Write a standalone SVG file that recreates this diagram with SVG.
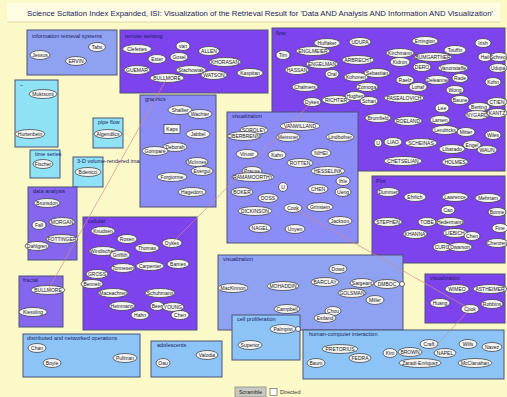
<svg xmlns="http://www.w3.org/2000/svg" width="507" height="397" viewBox="0 0 507 397">
<style>
.box{stroke:#4e5278;stroke-width:1}
.p{fill:#7d44ee}.w{fill:#8b8cf6}.b{fill:#8fa2f2}.lb{fill:#8cc4f7}.c{fill:#8fe2f5}.m{fill:#8466ef}
.lbl{font-family:"Liberation Sans",Arial,sans-serif;font-size:5.5px;fill:#1c1c60}
.n ellipse,.n rect,.n circle{fill:#f5f5f5;stroke:#333;stroke-width:0.7}
.n text{font-family:"Liberation Sans",Arial,sans-serif;font-size:5px;fill:#222;text-anchor:middle}
.con line{stroke:#d08c8c;stroke-width:0.8;opacity:0.85}
</style>
<rect width="507" height="397" fill="#fcf9c8"/>
<rect x="7" y="3" width="493" height="19" fill="#fefde4"/>
<line x1="7" y1="22" x2="500" y2="22" stroke="#dcd9a8" stroke-width="1"/>
<text x="27" y="16" font-family="'Liberation Sans',Arial,sans-serif" font-size="7" fill="#1c1c60" textLength="466" lengthAdjust="spacingAndGlyphs">Science Scitation Index Expanded, ISI: Visualization of the Retrieval Result for 'Data AND Analysis AND Information AND Visualization'</text>

<g id="c-info"><rect class="box b" x="27" y="30" width="90" height="45"/><text class="lbl" x="32" y="38">information retrieval systems</text>
<g class="n" id="n1"><ellipse cx="40" cy="55" rx="10" ry="4.5"/><text x="40" y="56.8">Jessus</text></g>
<g class="n" id="n2"><ellipse cx="97" cy="47" rx="8.5" ry="4.5"/><text x="97" y="48.8">Tabs</text></g>
<g class="n" id="n3"><ellipse cx="76" cy="61" rx="10.5" ry="4.5"/><text x="76" y="62.8">ERVIN</text></g>
</g>

<g id="c-remote"><rect class="box p" x="120" y="30" width="148" height="63"/><text class="lbl" x="125" y="38">remote sensing</text>
<g class="n" id="n4"><ellipse cx="137" cy="49" rx="14.5" ry="4.5"/><text x="137" y="50.8">Clefettes</text></g>
<g class="n" id="n5"><ellipse cx="183" cy="46" rx="7" ry="4.5"/><text x="183" y="47.8">van</text></g>
<g class="n" id="n6"><ellipse cx="209" cy="51" rx="10.5" ry="4.5"/><text x="209" y="52.8">ALLEN</text></g>
<g class="n" id="n7"><ellipse cx="157" cy="59" rx="9" ry="4.5"/><text x="157" y="60.8">Ester</text></g>
<g class="n" id="n8"><ellipse cx="179" cy="57" rx="9" ry="4.5"/><text x="179" y="58.8">Gosel</text></g>
<g class="n" id="n9"><ellipse cx="225" cy="62" rx="16" ry="4.5"/><text x="225" y="63.8">KHORASAN</text></g>
<g class="n" id="n10"><ellipse cx="137" cy="70" rx="13" ry="4.5"/><text x="137" y="71.8">GUEMAR</text></g>
<g class="n" id="n11"><ellipse cx="191" cy="70" rx="15" ry="4.5"/><text x="191" y="71.8">Stachowiak</text></g>
<g class="n" id="n12"><ellipse cx="214" cy="75" rx="13" ry="4.5"/><text x="214" y="76.8">WATSON</text></g>
<g class="n" id="n13"><ellipse cx="250" cy="73" rx="13" ry="4.5"/><text x="250" y="74.8">Kaspitan</text></g>
<g class="n" id="n14"><ellipse cx="167" cy="78" rx="17" ry="4.5"/><text x="167" y="79.8">BULLMORE</text></g>
</g>

<g id="c-flow"><rect class="box p" x="272" y="28" width="233" height="143"/><text class="lbl" x="276" y="35">flow</text>
<g class="n"><ellipse cx="327" cy="43" rx="13" ry="4.5"/><text x="327" y="44.8">Huffaker</text></g>
<g class="n"><ellipse cx="360" cy="42" rx="11" ry="4.5"/><text x="360" y="43.8">UDUPA</text></g>
<g class="n"><ellipse cx="425" cy="41" rx="13" ry="4.5"/><text x="425" y="42.8">Errington</text></g>
<g class="n"><ellipse cx="483" cy="43" rx="8" ry="4.5"/><text x="483" y="44.8">Irish</text></g>
<g class="n"><ellipse cx="283" cy="55" rx="7" ry="4.5"/><text x="283" y="56.8">Tim</text></g>
<g class="n"><ellipse cx="313" cy="51" rx="17" ry="4.5"/><text x="313" y="52.8">ENGLMEIER</text></g>
<g class="n"><ellipse cx="400" cy="53" rx="14" ry="4.5"/><text x="400" y="54.8">Kirchmann</text></g>
<g class="n"><ellipse cx="455" cy="50" rx="11" ry="4.5"/><text x="455" y="51.8">Touffin</text></g>
<g class="n"><ellipse cx="485" cy="57" rx="7" ry="4.5"/><text x="485" y="58.8">Hail</text></g>
<g class="n"><ellipse cx="499" cy="57" rx="9" ry="4.5"/><text x="499" y="58.8">Schreck</text></g>
<g class="n"><ellipse cx="297" cy="70" rx="12" ry="4.5"/><text x="297" y="71.8">HASSAN</text></g>
<g class="n"><ellipse cx="322" cy="64" rx="16" ry="4.5"/><text x="322" y="65.8">ENGELMAN</text></g>
<g class="n"><ellipse cx="358" cy="60" rx="16" ry="4.5"/><text x="358" y="61.8">ARBRECHT</text></g>
<g class="n"><ellipse cx="332" cy="74" rx="7" ry="4.5"/><text x="332" y="75.8">Oral</text></g>
<g class="n"><ellipse cx="356" cy="77" rx="12" ry="4.5"/><text x="356" y="78.8">Kohonen</text></g>
<g class="n"><ellipse cx="377" cy="73" rx="13" ry="4.5"/><text x="377" y="74.8">Sebastian</text></g>
<g class="n"><ellipse cx="400" cy="62" rx="10" ry="4.5"/><text x="400" y="63.8">Kidron</text></g>
<g class="n"><ellipse cx="433" cy="57" rx="19" ry="4.5"/><text x="433" y="58.8">BUMGARTNER</text></g>
<g class="n"><ellipse cx="422" cy="67" rx="9" ry="4.5"/><text x="422" y="68.8">DERO</text></g>
<g class="n"><ellipse cx="453" cy="68" rx="15" ry="4.5"/><text x="453" y="69.8">Vanonstaffe</text></g>
<g class="n"><ellipse cx="498" cy="68" rx="9" ry="4.5"/><text x="498" y="69.8">Udupa</text></g>
<g class="n"><ellipse cx="405" cy="80" rx="9" ry="4.5"/><text x="405" y="81.8">Raelz</text></g>
<g class="n"><ellipse cx="437" cy="80" rx="12" ry="4.5"/><text x="437" y="81.8">Deleanne</text></g>
<g class="n"><ellipse cx="460" cy="78" rx="8" ry="4.5"/><text x="460" y="79.8">Rade</text></g>
<g class="n"><ellipse cx="493" cy="82" rx="8" ry="4.5"/><text x="493" y="83.8">Kohn</text></g>
<g class="n"><ellipse cx="305" cy="87" rx="13" ry="4.5"/><text x="305" y="88.8">Chalmers</text></g>
<g class="n"><ellipse cx="367" cy="87" rx="11" ry="4.5"/><text x="367" y="88.8">Zomoga</text></g>
<g class="n"><ellipse cx="418" cy="87" rx="9" ry="4.5"/><text x="418" y="88.8">Lohaf</text></g>
<g class="n"><ellipse cx="455" cy="90" rx="9" ry="4.5"/><text x="455" y="91.8">Wong</text></g>
<g class="n"><ellipse cx="312" cy="102" rx="9" ry="4.5"/><text x="312" y="103.8">Dykes</text></g>
<g class="n"><ellipse cx="336" cy="100" rx="14" ry="4.5"/><text x="336" y="101.8">RICHTER</text></g>
<g class="n"><ellipse cx="355" cy="96" rx="10" ry="4.5"/><text x="355" y="97.8">Hughes</text></g>
<g class="n"><ellipse cx="369" cy="101" rx="9" ry="4.5"/><text x="369" y="102.8">Schan</text></g>
<g class="n"><ellipse cx="404" cy="98" rx="20" ry="4.5"/><text x="404" y="99.8">PASEALOVICH</text></g>
<g class="n"><ellipse cx="460" cy="100" rx="9" ry="4.5"/><text x="460" y="101.8">Baune</text></g>
<g class="n"><ellipse cx="442" cy="108" rx="7" ry="4.5"/><text x="442" y="109.8">Lee</text></g>
<g class="n"><ellipse cx="479" cy="107" rx="11" ry="4.5"/><text x="479" y="108.8">Berting</text></g>
<g class="n"><ellipse cx="497" cy="102" rx="10" ry="4.5"/><text x="497" y="103.8">CTIEN</text></g>
<g class="n"><ellipse cx="477" cy="115" rx="12" ry="4.5"/><text x="477" y="116.8">NYGARD</text></g>
<g class="n"><ellipse cx="497" cy="113" rx="10" ry="4.5"/><text x="497" y="114.8">KANTZ</text></g>
<g class="n"><ellipse cx="378" cy="118" rx="13" ry="4.5"/><text x="378" y="119.8">Brumfield</text></g>
<g class="n"><ellipse cx="408" cy="121" rx="14" ry="4.5"/><text x="408" y="122.8">ROELAND</text></g>
<g class="n"><ellipse cx="440" cy="120" rx="10" ry="4.5"/><text x="440" y="121.8">Larsen</text></g>
<g class="n"><ellipse cx="445" cy="130" rx="13" ry="4.5"/><text x="445" y="131.8">Lendricks</text></g>
<g class="n"><ellipse cx="466" cy="132" rx="9" ry="4.5"/><text x="466" y="133.8">Mitter</text></g>
<g class="n"><ellipse cx="493" cy="135" rx="8" ry="4.5"/><text x="493" y="136.8">Wiles</text></g>
<g class="n"><circle cx="378" cy="143" r="4"/><text x="378" y="144.8">U</text></g>
<g class="n"><ellipse cx="393" cy="142" rx="9" ry="4.5"/><text x="393" y="143.8">LIAO</text></g>
<g class="n"><ellipse cx="421" cy="143" rx="16" ry="4.5"/><text x="421" y="144.8">SCHEINAS</text></g>
<g class="n"><ellipse cx="452" cy="149" rx="13" ry="4.5"/><text x="452" y="150.8">Libarado</text></g>
<g class="n"><ellipse cx="472" cy="145" rx="9" ry="4.5"/><text x="472" y="146.8">Engel</text></g>
<g class="n"><ellipse cx="487" cy="150" rx="10" ry="4.5"/><text x="487" y="151.8">WAUN</text></g>
<g class="n"><ellipse cx="403" cy="161" rx="19" ry="4.5"/><text x="403" y="162.8">CHETSELIAN</text></g>
<g class="n"><ellipse cx="455" cy="162" rx="13" ry="4.5"/><text x="455" y="163.8">HOLMES</text></g>
</g>

<g id="c-dash"><rect class="box c" x="15" y="80" width="43" height="67"/><text class="lbl" x="20" y="87">–</text>
<g class="n"><ellipse cx="43" cy="94" rx="14" ry="4.5"/><text x="43" y="95.8">Muktsumi</text></g>
<g class="n"><ellipse cx="30" cy="134" rx="15" ry="4.5"/><text x="30" y="135.8">Hurtenbein</text></g>
</g>
<g id="c-pipe"><rect class="box c" x="93" y="118" width="30" height="30"/><text class="lbl" x="98" y="124">pipe flow</text>
<g class="n"><ellipse cx="108" cy="134" rx="14" ry="4.5"/><text x="108" y="135.8">Algendlics</text></g>
</g>
<g id="c-time"><rect class="box c" x="30" y="150" width="30" height="28"/><text class="lbl" x="35" y="156">time series</text>
<g class="n"><ellipse cx="43" cy="164" rx="10" ry="4.5"/><text x="43" y="165.8">Fischer</text></g>
</g>
<g id="c-3d"><rect class="box c" x="73" y="157" width="30" height="30"/><text class="lbl" x="77" y="163">3-D volume-rendered images</text>
<g class="n"><ellipse cx="88" cy="172" rx="13" ry="4.5"/><text x="88" y="173.8">Bdenicci</text></g>
</g>

<g id="c-graphics"><rect class="box w" x="140" y="95" width="76" height="112"/><text class="lbl" x="145" y="101">graphics</text>
<g class="n"><ellipse cx="180" cy="110" rx="12" ry="4.5"/><text x="180" y="111.8">Shallier</text></g>
<g class="n"><ellipse cx="200" cy="114" rx="12" ry="4.5"/><text x="200" y="115.8">Wachter</text></g>
<g class="n"><rect x="164" y="124.5" width="16" height="9"/><text x="172" y="130.8">Kaps</text></g>
<g class="n"><ellipse cx="198" cy="134" rx="12" ry="4.5"/><text x="198" y="135.8">Jabbel</text></g>
<g class="n"><ellipse cx="175" cy="147" rx="12" ry="4.5"/><text x="175" y="148.8">Deborah</text></g>
<g class="n"><ellipse cx="155" cy="151" rx="13" ry="4.5"/><text x="155" y="152.8">Gompare</text></g>
<g class="n"><ellipse cx="197" cy="162" rx="11" ry="4.5"/><text x="197" y="163.8">McInnes</text></g>
<g class="n"><ellipse cx="202" cy="171" rx="11" ry="4.5"/><text x="202" y="172.8">Evergul</text></g>
<g class="n"><ellipse cx="172" cy="177" rx="15" ry="4.5"/><text x="172" y="178.8">Forgiorme</text></g>
<g class="n"><ellipse cx="192" cy="192" rx="14" ry="4.5"/><text x="192" y="193.8">Hagedorn</text></g>
</g>

<g id="c-vis1"><rect class="box w" x="227" y="112" width="131" height="131"/><text class="lbl" x="232" y="118">visualization</text>
<g class="n"><ellipse cx="254" cy="130" rx="14" ry="4.5"/><text x="254" y="131.8">SOROLEY</text></g>
<g class="n"><ellipse cx="300" cy="126" rx="20" ry="4.5"/><text x="300" y="127.8">VANWILLAND</text></g>
<g class="n"><ellipse cx="244" cy="136" rx="17" ry="4.5"/><text x="244" y="137.8">OBERBRENN</text></g>
<g class="n"><ellipse cx="288" cy="137" rx="12" ry="4.5"/><text x="288" y="138.8">Meissner</text></g>
<g class="n"><ellipse cx="340" cy="137" rx="14" ry="4.5"/><text x="340" y="138.8">Lindbofner</text></g>
<g class="n"><ellipse cx="247" cy="154" rx="11" ry="4.5"/><text x="247" y="155.8">Virusir</text></g>
<g class="n"><ellipse cx="277" cy="155" rx="9" ry="4.5"/><text x="277" y="156.8">Kahn</text></g>
<g class="n"><ellipse cx="321" cy="153" rx="10" ry="4.5"/><text x="321" y="154.8">NIHEI</text></g>
<g class="n"><ellipse cx="300" cy="163" rx="13" ry="4.5"/><text x="300" y="164.8">ROTTEN</text></g>
<g class="n"><ellipse cx="328" cy="171" rx="17" ry="4.5"/><text x="328" y="172.8">HESSELINK</text></g>
<g class="n"><ellipse cx="252" cy="171" rx="10" ry="4.5"/><text x="252" y="172.8">Prause</text></g>
<g class="n"><ellipse cx="253" cy="177" rx="21" ry="4.5"/><text x="253" y="178.8">RAMAMOORTHY</text></g>
<g class="n"><circle cx="283" cy="187" r="4.5"/><text x="283" y="188.8">U</text></g>
<g class="n"><ellipse cx="343" cy="181" rx="7" ry="4.5"/><text x="343" y="182.8">Ihle</text></g>
<g class="n"><ellipse cx="318" cy="189" rx="10" ry="4.5"/><text x="318" y="190.8">CHEN</text></g>
<g class="n"><ellipse cx="343" cy="192" rx="8" ry="4.5"/><text x="343" y="193.8">Ueng</text></g>
<g class="n"><ellipse cx="242" cy="192" rx="11" ry="4.5"/><text x="242" y="193.8">BOKER</text></g>
<g class="n"><ellipse cx="268" cy="198" rx="10" ry="4.5"/><text x="268" y="199.8">DOSS</text></g>
<g class="n"><ellipse cx="255" cy="211" rx="17" ry="4.5"/><text x="255" y="212.8">DICKINSON</text></g>
<g class="n"><ellipse cx="293" cy="208" rx="9" ry="4.5"/><text x="293" y="209.8">Cook</text></g>
<g class="n"><ellipse cx="320" cy="207" rx="13" ry="4.5"/><text x="320" y="208.8">Grinstein</text></g>
<g class="n"><ellipse cx="340" cy="221" rx="12" ry="4.5"/><text x="340" y="222.8">Jackson</text></g>
<g class="n"><ellipse cx="260" cy="228" rx="11" ry="4.5"/><text x="260" y="229.8">NAGEL</text></g>
<g class="n"><ellipse cx="295" cy="229" rx="10" ry="4.5"/><text x="295" y="230.8">Unyen</text></g>
</g>

<g id="c-data"><rect class="box m" x="28" y="187" width="49" height="73"/><text class="lbl" x="33" y="193">data analysis</text>
<g class="n"><ellipse cx="47" cy="203" rx="13" ry="4.5"/><text x="47" y="204.8">Brunsdon</text></g>
<g class="n"><ellipse cx="39" cy="225" rx="7" ry="4.5"/><text x="39" y="226.8">Fall</text></g>
<g class="n"><ellipse cx="62" cy="222" rx="13" ry="4.5"/><text x="62" y="223.8">MORGAN</text></g>
<g class="n"><ellipse cx="62" cy="239" rx="16" ry="4.5"/><text x="62" y="240.8">FOTTINGER</text></g>
<g class="n"><ellipse cx="37" cy="246" rx="12" ry="4.5"/><text x="37" y="247.8">Dahlgren</text></g>
</g>

<g id="c-fractal"><rect class="box m" x="19" y="276" width="44" height="51"/><text class="lbl" x="23" y="282">fractal</text>
<g class="n"><ellipse cx="48" cy="290" rx="17" ry="4.5"/><text x="48" y="291.8">BULLMORE</text></g>
<g class="n"><ellipse cx="33" cy="312" rx="14" ry="4.5"/><text x="33" y="313.8">Kiessling</text></g>
</g>

<g id="c-cell"><rect class="box p" x="83" y="217" width="114" height="113"/><text class="lbl" x="88" y="223">cellular</text>
<g class="n"><ellipse cx="103" cy="231" rx="12" ry="4.5"/><text x="103" y="232.8">Knudsen</text></g>
<g class="n"><ellipse cx="127" cy="239" rx="10" ry="4.5"/><text x="127" y="240.8">Rosen</text></g>
<g class="n"><ellipse cx="172" cy="243" rx="10" ry="4.5"/><text x="172" y="244.8">Dykes</text></g>
<g class="n"><ellipse cx="147" cy="248" rx="12" ry="4.5"/><text x="147" y="249.8">Thomas</text></g>
<g class="n"><ellipse cx="103" cy="251" rx="14" ry="4.5"/><text x="103" y="252.8">Windischan</text></g>
<g class="n"><ellipse cx="120" cy="255" rx="10" ry="4.5"/><text x="120" y="256.8">Griffith</text></g>
<g class="n"><ellipse cx="123" cy="268" rx="12" ry="4.5"/><text x="123" y="269.8">Tonnesen</text></g>
<g class="n"><ellipse cx="150" cy="266" rx="14" ry="4.5"/><text x="150" y="267.8">Carpenter</text></g>
<g class="n"><ellipse cx="178" cy="264" rx="11" ry="4.5"/><text x="178" y="265.8">Barnes</text></g>
<g class="n"><ellipse cx="97" cy="274" rx="11" ry="4.5"/><text x="97" y="275.8">GROSS</text></g>
<g class="n"><ellipse cx="92" cy="284" rx="11" ry="4.5"/><text x="92" y="285.8">Bennett</text></g>
<g class="n"><ellipse cx="113" cy="293" rx="15" ry="4.5"/><text x="113" y="294.8">Maceachren</text></g>
<g class="n"><ellipse cx="160" cy="293" rx="15" ry="4.5"/><text x="160" y="294.8">Schuhmann</text></g>
<g class="n"><ellipse cx="122" cy="306" rx="13" ry="4.5"/><text x="122" y="307.8">Heinmann</text></g>
<g class="n"><ellipse cx="157" cy="306" rx="7" ry="4.5"/><text x="157" y="307.8">Beer</text></g>
<g class="n"><ellipse cx="173" cy="307" rx="11" ry="4.5"/><text x="173" y="308.8">YOUNG</text></g>
<g class="n"><ellipse cx="140" cy="315" rx="9" ry="4.5"/><text x="140" y="316.8">Hahn</text></g>
<g class="n"><ellipse cx="180" cy="315" rx="9" ry="4.5"/><text x="180" y="316.8">Chen</text></g>
</g>

<g id="c-plot"><rect class="box p" x="372" y="176" width="133" height="87"/><text class="lbl" x="376" y="183">Plot</text>
<g class="n"><ellipse cx="388" cy="192" rx="11" ry="4.5"/><text x="388" y="193.8">Dummer</text></g>
<g class="n"><ellipse cx="415" cy="197" rx="11" ry="4.5"/><text x="415" y="198.8">Ehrlich</text></g>
<g class="n"><ellipse cx="455" cy="197" rx="13" ry="4.5"/><text x="455" y="198.8">Lawrence</text></g>
<g class="n"><ellipse cx="488" cy="198" rx="13" ry="4.5"/><text x="488" y="199.8">Mehrtam</text></g>
<g class="n"><ellipse cx="448" cy="210" rx="7" ry="4.5"/><text x="448" y="211.8">Cao</text></g>
<g class="n"><ellipse cx="497" cy="212" rx="9" ry="4.5"/><text x="497" y="213.8">Bonne</text></g>
<g class="n"><ellipse cx="388" cy="222" rx="14" ry="4.5"/><text x="388" y="223.8">STEPHEN</text></g>
<g class="n"><ellipse cx="427" cy="222" rx="9" ry="4.5"/><text x="427" y="223.8">TOBE</text></g>
<g class="n"><ellipse cx="450" cy="222" rx="14" ry="4.5"/><text x="450" y="223.8">Hedermann</text></g>
<g class="n"><ellipse cx="500" cy="228" rx="8" ry="4.5"/><text x="500" y="229.8">Fine</text></g>
<g class="n"><ellipse cx="415" cy="234" rx="12" ry="4.5"/><text x="415" y="235.8">KHANNA</text></g>
<g class="n"><ellipse cx="455" cy="233" rx="12" ry="4.5"/><text x="455" y="234.8">LIEBICH</text></g>
<g class="n"><ellipse cx="472" cy="236" rx="8" ry="4.5"/><text x="472" y="237.8">Chen</text></g>
<g class="n"><ellipse cx="497" cy="243" rx="11" ry="4.5"/><text x="497" y="244.8">Chenzen</text></g>
<g class="n"><ellipse cx="442" cy="247" rx="9" ry="4.5"/><text x="442" y="248.8">CURO</text></g>
<g class="n"><ellipse cx="460" cy="247" rx="12" ry="4.5"/><text x="460" y="248.8">Dwarson</text></g>
</g>

<g id="c-vis2"><rect class="box b" x="218" y="255" width="185" height="75"/><text class="lbl" x="223" y="261">visualization</text>
<g class="n"><ellipse cx="338" cy="269" rx="9" ry="4.5"/><text x="338" y="270.8">Dowd</text></g>
<g class="n"><ellipse cx="325" cy="282" rx="14" ry="4.5"/><text x="325" y="283.8">BARCLAY</text></g>
<g class="n"><ellipse cx="233" cy="288" rx="15" ry="4.5"/><text x="233" y="289.8">MacKinnon</text></g>
<g class="n"><ellipse cx="283" cy="286" rx="16" ry="4.5"/><text x="283" y="287.8">MOHADDIN</text></g>
<g class="n"><ellipse cx="362" cy="283" rx="12" ry="4.5"/><text x="362" y="284.8">Sargeant</text></g>
<g class="n"><ellipse cx="387" cy="284" rx="13" ry="4.5"/><text x="387" y="285.8">DMBOC</text></g>
<g class="n"><circle cx="402" cy="284" r="2.5"/></g>
<g class="n"><ellipse cx="352" cy="293" rx="14" ry="4.5"/><text x="352" y="294.8">GOLSMAN</text></g>
<g class="n"><ellipse cx="375" cy="300" rx="9" ry="4.5"/><text x="375" y="301.8">Miller</text></g>
<g class="n"><ellipse cx="287" cy="309" rx="13" ry="4.5"/><text x="287" y="310.8">Campbell</text></g>
<g class="n"><ellipse cx="333" cy="311" rx="8" ry="4.5"/><text x="333" y="312.8">Chou</text></g>
<g class="n"><ellipse cx="325" cy="318" rx="11" ry="4.5"/><text x="325" y="319.8">Estland</text></g>
</g>

<g id="c-vis3"><rect class="box p" x="425" y="274" width="80" height="49"/><text class="lbl" x="430" y="280">visualization</text>
<g class="n"><ellipse cx="457" cy="289" rx="12" ry="4.5"/><text x="457" y="290.8">WIMEO</text></g>
<g class="n"><ellipse cx="490" cy="289" rx="17" ry="4.5"/><text x="490" y="290.8">ASTHEIMER</text></g>
<g class="n"><ellipse cx="440" cy="303" rx="10" ry="4.5"/><text x="440" y="304.8">Huang</text></g>
<g class="n"><ellipse cx="470" cy="309" rx="9" ry="4.5"/><text x="470" y="310.8">Cook</text></g>
<g class="n"><ellipse cx="492" cy="304" rx="11" ry="4.5"/><text x="492" y="305.8">Robbins</text></g>
</g>

<g id="c-prolif"><rect class="box lb" x="232" y="315" width="68" height="45"/><text class="lbl" x="237" y="321">cell proliferation</text>
<g class="n"><ellipse cx="283" cy="329" rx="13" ry="4.5"/><text x="283" y="330.8">Palmpist</text></g>
<g class="n"><circle cx="298" cy="329" r="2.5"/></g>
<g class="n"><ellipse cx="250" cy="345" rx="12" ry="4.5"/><text x="250" y="346.8">Superior</text></g>
</g>

<g id="c-hci"><rect class="box lb" x="303" y="330" width="201" height="49"/><text class="lbl" x="309" y="336">human-computer interaction</text>
<g class="n"><ellipse cx="340" cy="349" rx="18" ry="4.5"/><text x="340" y="350.8">PRETORIUS</text></g>
<g class="n"><ellipse cx="360" cy="358" rx="11" ry="4.5"/><text x="360" y="359.8">FEDRA</text></g>
<g class="n"><ellipse cx="316" cy="363" rx="9" ry="4.5"/><text x="316" y="364.8">Baum</text></g>
<g class="n"><ellipse cx="390" cy="353" rx="7" ry="4.5"/><text x="390" y="354.8">Kim</text></g>
<g class="n"><ellipse cx="410" cy="352" rx="12" ry="4.5"/><text x="410" y="353.8">BROWN</text></g>
<g class="n"><ellipse cx="429" cy="344" rx="9" ry="4.5"/><text x="429" y="345.8">Craft</text></g>
<g class="n"><ellipse cx="445" cy="353" rx="11" ry="4.5"/><text x="445" y="354.8">NAPEL</text></g>
<g class="n"><ellipse cx="468" cy="344" rx="9" ry="4.5"/><text x="468" y="345.8">Wills</text></g>
<g class="n"><ellipse cx="492" cy="347" rx="10" ry="4.5"/><text x="492" y="348.8">Navez</text></g>
<g class="n"><ellipse cx="420" cy="363" rx="21" ry="4.5"/><text x="420" y="364.8">Zaradi-Enriquez</text></g>
<g class="n"><ellipse cx="475" cy="363" rx="17" ry="4.5"/><text x="475" y="364.8">McClanahan</text></g>
</g>

<g id="c-dist"><rect class="box lb" x="23" y="334" width="117" height="43"/><text class="lbl" x="27" y="340">distributed and networked operations</text>
<g class="n"><ellipse cx="37" cy="348" rx="9" ry="4.5"/><text x="37" y="349.8">Chan</text></g>
<g class="n"><ellipse cx="52" cy="363" rx="9" ry="4.5"/><text x="52" y="364.8">Boyle</text></g>
<g class="n"><ellipse cx="125" cy="358" rx="12" ry="4.5"/><text x="125" y="359.8">Pullman</text></g>
</g>

<g id="c-adol"><rect class="box lb" x="151" y="341" width="71" height="36"/><text class="lbl" x="157" y="347">adolescents</text>
<g class="n"><ellipse cx="207" cy="355" rx="11" ry="4.5"/><text x="207" y="356.8">Valodia</text></g>
<g class="n"><ellipse cx="163" cy="363" rx="7" ry="4.5"/><text x="163" y="364.8">Oau</text></g>
</g>

<g id="connectors" class="con">
<line x1="48" y1="290" x2="167" y2="78"/>
<line x1="172" y1="243" x2="312" y2="102"/>
<line x1="293" y1="208" x2="470" y2="309"/>
<line x1="432" y1="350" x2="470" y2="309"/>
</g>

<g id="controls">
<rect x="235" y="387" width="31" height="10" fill="#c9c9c2" stroke="#8a8a8a" stroke-width="0.8"/>
<text x="250.5" y="394" font-family="'Liberation Sans',Arial,sans-serif" font-size="5.5" text-anchor="middle" fill="#222">Scramble</text>
<rect x="270" y="388.5" width="7" height="7" fill="#fff" stroke="#666" stroke-width="0.7"/>
<text x="280" y="394" font-family="'Liberation Sans',Arial,sans-serif" font-size="5.5" fill="#333">Directed</text>
</g>
</svg>
